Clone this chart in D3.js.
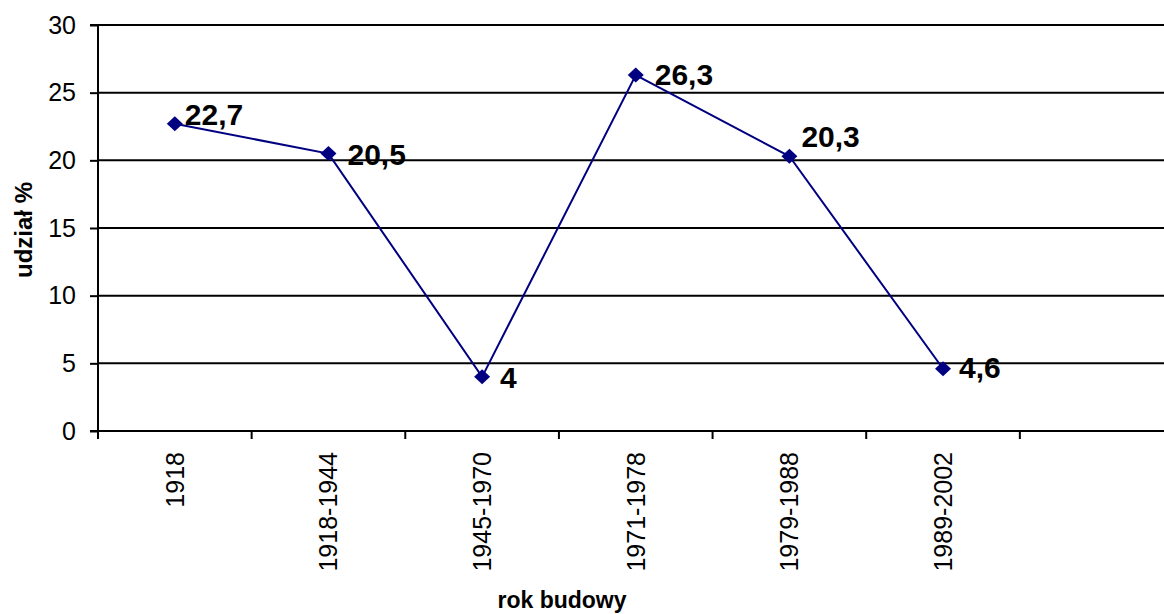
<!DOCTYPE html>
<html><head><meta charset="utf-8">
<script src="https://cdn.jsdelivr.net/npm/d3@7"></script>
<style>html,body{margin:0;padding:0;background:#fff;overflow:hidden}text{font-family:Arial,"Liberation Sans",sans-serif}</style>
</head><body>
<svg id="c" width="1164" height="614"></svg>
<script>
const categories = ["1918", "1918-1944", "1945-1970", "1971-1978", "1979-1988", "1989-2002"];
const values = [22.7, 20.5, 4, 26.3, 20.3, 4.6];
const valueLabels = ["22,7", "20,5", "4", "26,3", "20,3", "4,6"];
const yTicks = [0, 5, 10, 15, 20, 25, 30];
const yTitle = "udział %";
const xTitle = "rok budowy";
// label offsets [dx, dy] relative to the marker
const labelShift = [[10, 1], [19, 11], [18, 11], [19, 10], [12, -9], [16, 9]];

const svg = d3.select("#c");
const W = 1164, H = 614;
const slots = d3.range(categories.length + 1);
const x = d3.scaleBand().domain(slots).range([98, 1173.5]).paddingInner(0).paddingOuter(0);
const y = d3.scaleLinear().domain([0, 30]).range([431, 25]);

// gridlines
svg.append("g").selectAll("line").data(yTicks.filter(d => d > 0)).join("line")
  .attr("x1", 98).attr("x2", W).attr("y1", d => y(d)).attr("y2", d => y(d))
  .attr("stroke", "#000").attr("stroke-width", 2);

// y axis
const yAxis = d3.axisLeft(y).tickValues(yTicks).tickSize(8).tickPadding(14).tickFormat(d3.format("d"));
const gy = svg.append("g").attr("transform", "translate(98,0)").call(yAxis);
gy.select(".domain").attr("stroke", "#000").attr("stroke-width", 2).attr("d", `M-8,${y(30)}H0V${y(0)}H-8`);
gy.selectAll(".tick line").attr("stroke", "#000").attr("stroke-width", 2);
gy.selectAll(".tick text").attr("font-size", 25).attr("fill", "#000").attr("font-family", "Arial, 'Liberation Sans', sans-serif");

// x axis
svg.append("line").attr("x1", 98).attr("x2", W).attr("y1", y(0)).attr("y2", y(0)).attr("stroke", "#000").attr("stroke-width", 2);
svg.append("g").selectAll("line").data(slots).join("line")
  .attr("x1", d => x(d)).attr("x2", d => x(d)).attr("y1", y(0)).attr("y2", y(0) + 8)
  .attr("stroke", "#000").attr("stroke-width", 2);
svg.append("g").selectAll("text").data(categories).join("text")
  .attr("transform", (d, i) => `translate(${x(i) + x.bandwidth() / 2},452) rotate(-90)`)
  .attr("text-anchor", "end").attr("dy", "0.35em").attr("font-size", 25).attr("fill", "#000")
  .text(d => d);

// line
const cx = i => x(i) + x.bandwidth() / 2;
svg.append("path").datum(values)
  .attr("d", d3.line().x((d, i) => cx(i)).y(d => y(d)))
  .attr("fill", "none").attr("stroke", "#000080").attr("stroke-width", 2);

// markers
svg.append("g").selectAll("path").data(values).join("path")
  .attr("transform", (d, i) => `translate(${cx(i)},${y(d)})`)
  .attr("d", "M0,-7.5L8,0L0,7.5L-8,0Z").attr("fill", "#000080");

// data labels
svg.append("g").selectAll("text").data(values).join("text")
  .attr("x", (d, i) => cx(i) + labelShift[i][0]).attr("y", (d, i) => y(d) + labelShift[i][1])
  .attr("font-size", 30).attr("font-weight", "bold").attr("fill", "#000")
  .text((d, i) => valueLabels[i]);

// axis titles
svg.append("text").attr("transform", "translate(32,230) rotate(-90)")
  .attr("text-anchor", "middle").attr("font-size", 24).attr("font-weight", "bold").text(yTitle);
svg.append("text").attr("x", 562).attr("y", 608)
  .attr("text-anchor", "middle").attr("font-size", 23).attr("font-weight", "bold").text(xTitle);
</script>
</body></html>
